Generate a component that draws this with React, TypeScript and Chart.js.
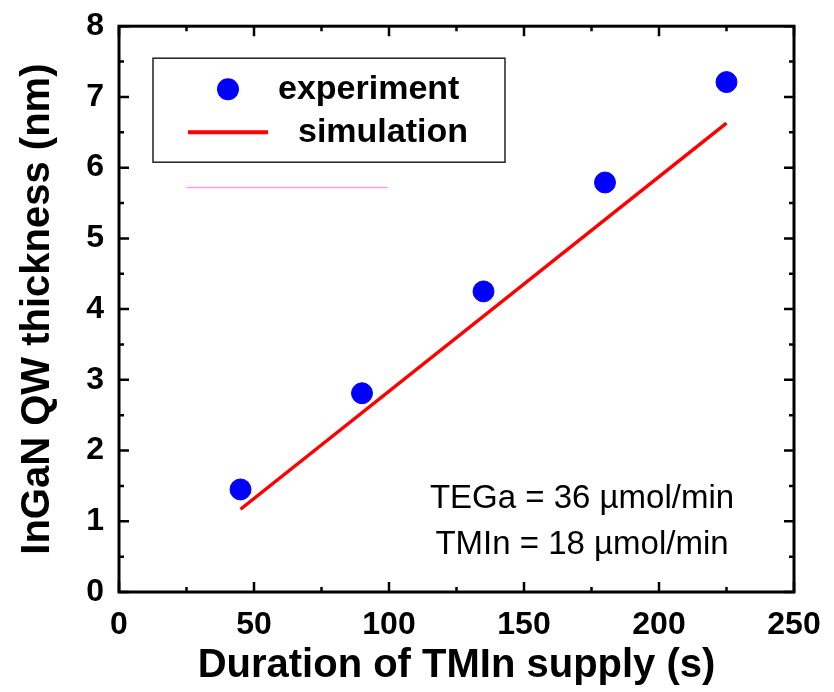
import { useEffect, useRef } from "react";
import { Chart, registerables } from "chart.js";

Chart.register(...registerables);

// Measured InGaN QW thickness vs. TMIn supply duration
const durations = [45, 90, 135, 180, 225];
const thickness = [1.45, 2.81, 4.25, 5.79, 7.21];

// Simulated thickness (linear growth)
const simDurations = [45, 225];
const simThickness = [1.17, 6.63];

// Thin magenta guide stroke below the legend
const guideX = [25, 99.5];
const guideY = [5.72, 5.72];

const xTickValues = [0, 50, 100, 150, 200, 250];
const yTickValues = [0, 1, 2, 3, 4, 5, 6, 7, 8];

const legendLabels = ["experiment", "simulation"];
const noteLines = ["TEGa = 36 \u00b5mol/min", "TMIn = 18 \u00b5mol/min"];

const FONT = "'Liberation Sans', Arial, Helvetica, sans-serif";

const framePlugin = {
  id: "frameAndTicks",
  afterDraw(chart: any) {
    const { ctx, chartArea: a, scales } = chart;
    const x = scales.x;
    const y = scales.y;
    ctx.save();
    ctx.strokeStyle = "#000";
    ctx.lineWidth = 3;
    ctx.strokeRect(a.left, a.top, a.right - a.left, a.bottom - a.top);

    ctx.lineWidth = 2.5;
    ctx.beginPath();
    for (let v = 0; v <= 250; v += 25) {
      const len = v % 50 === 0 ? 10 : 5;
      const px = x.getPixelForValue(v);
      ctx.moveTo(px, a.bottom);
      ctx.lineTo(px, a.bottom - len);
      ctx.moveTo(px, a.top);
      ctx.lineTo(px, a.top + len);
    }
    for (let v = 0; v <= 8; v += 0.5) {
      const len = Number.isInteger(v) ? 10 : 5;
      const py = y.getPixelForValue(v);
      ctx.moveTo(a.left, py);
      ctx.lineTo(a.left + len, py);
      ctx.moveTo(a.right, py);
      ctx.lineTo(a.right - len, py);
    }
    ctx.stroke();

    // legend box
    const bx = a.left + 34;
    const by = a.top + 32;
    ctx.lineWidth = 1.5;
    ctx.strokeStyle = "#222";
    ctx.strokeRect(bx, by, 352, 104);

    ctx.fillStyle = "#0000ff";
    ctx.beginPath();
    ctx.arc(bx + 75, by + 31, 11, 0, Math.PI * 2);
    ctx.fill();

    ctx.strokeStyle = "#ff0000";
    ctx.lineWidth = 4;
    ctx.beginPath();
    ctx.moveTo(bx + 35, by + 74);
    ctx.lineTo(bx + 115, by + 74);
    ctx.stroke();

    ctx.fillStyle = "#000";
    ctx.font = `bold 34px ${FONT}`;
    ctx.textBaseline = "middle";
    ctx.textAlign = "left";
    ctx.fillText(legendLabels[0], bx + 125, by + 31);
    ctx.fillText(legendLabels[1], bx + 145, by + 74);

    // growth conditions note
    ctx.font = `33px ${FONT}`;
    ctx.textAlign = "center";
    ctx.fillText(noteLines[0], a.left + 463, a.top + 473);
    ctx.fillText(noteLines[1], a.left + 463, a.top + 519);
    ctx.restore();
  },
};

export default function App() {
  const canvasRef = useRef<HTMLCanvasElement | null>(null);

  useEffect(() => {
    document.body.style.margin = "0";
    const canvas = canvasRef.current;
    if (!canvas) return;
    const chart = new Chart(canvas, {
      type: "scatter",
      data: {
        datasets: [
          {
            label: legendLabels[0],
            data: durations.map((d, i) => ({ x: d, y: thickness[i] })),
            backgroundColor: "#0000ff",
            borderColor: "#0000ff",
            pointRadius: 10.5,
            order: 0,
          },
          {
            label: legendLabels[1],
            type: "line",
            data: simDurations.map((d, i) => ({ x: d, y: simThickness[i] })),
            borderColor: "#ff0000",
            borderWidth: 3.5,
            pointRadius: 0,
            showLine: true,
            fill: false,
            order: 1,
          },
          {
            label: "guide",
            type: "line",
            data: guideX.map((d, i) => ({ x: d, y: guideY[i] })),
            borderColor: "#ff99ff",
            borderWidth: 1.5,
            pointRadius: 0,
            showLine: true,
            fill: false,
            order: 2,
          },
        ] as any,
      },
      options: {
        responsive: false,
        animation: false,
        layout: { padding: { left: 0, top: 24, right: 40, bottom: 0 } },
        plugins: {
          legend: { display: false },
          tooltip: { enabled: false },
        },
        scales: {
          x: {
            type: "linear",
            min: 0,
            max: 250,
            afterFit: (s: any) => {
              s.height = 100;
            },
            afterBuildTicks: (s: any) => {
              s.ticks = xTickValues.map((v) => ({ value: v }));
            },
            grid: { display: false },
            border: { display: false },
            ticks: {
              padding: 6,
              color: "#000",
              font: { family: FONT, size: 32, weight: "bold" },
              maxRotation: 0,
            },
            title: {
              display: true,
              text: "Duration of TMIn supply (s)",
              color: "#000",
              font: { family: FONT, size: 40, weight: "bold" },
              padding: { top: 0, bottom: 2 },
            },
          },
          y: {
            type: "linear",
            min: 0,
            max: 8,
            afterFit: (s: any) => {
              s.width = 119;
            },
            afterBuildTicks: (s: any) => {
              s.ticks = yTickValues.map((v) => ({ value: v }));
            },
            grid: { display: false },
            border: { display: false },
            ticks: {
              padding: 7,
              color: "#000",
              font: { family: FONT, size: 32, weight: "bold" },
            },
            title: {
              display: true,
              text: "InGaN QW thickness (nm)",
              color: "#000",
              font: { family: FONT, size: 40, weight: "bold" },
              padding: { top: 14, bottom: 0 },
            },
          },
        },
      } as any,
      plugins: [framePlugin],
    });
    return () => chart.destroy();
  }, []);

  return (
    <div style={{ position: "absolute", left: 0, top: 0, width: 834, height: 692, background: "#fff" }}>
      <canvas ref={canvasRef} width={834} height={692} />
    </div>
  );
}
